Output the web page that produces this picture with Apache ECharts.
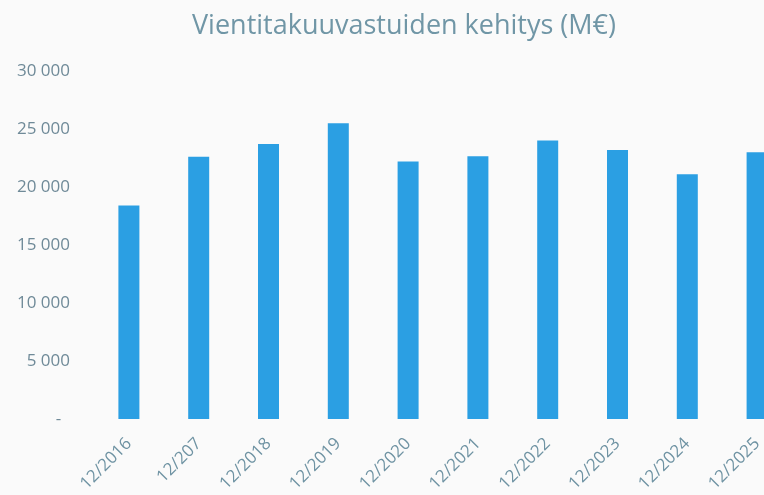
<!DOCTYPE html>
<html>
<head>
<meta charset="utf-8">
<script src="https://cdn.jsdelivr.net/npm/echarts@6/dist/echarts.min.js"></script>
<style>
  html, body { margin: 0; padding: 0; background: #fafafa; }
  #chart { width: 764px; height: 495px; }
</style>
</head>
<body>
<div id="chart"></div>
<script>
const categories = ["12/2016", "12/207", "12/2018", "12/2019", "12/2020", "12/2021", "12/2022", "12/2023", "12/2024", "12/2025"];
const values = [18400, 22600, 23700, 25500, 22200, 22650, 24000, 23200, 21100, 23000];
const titleText = "Vientitakuuvastuiden kehitys (M€)";

const chart = echarts.init(document.getElementById("chart"));
chart.setOption({
  backgroundColor: "#fafafa",
  animation: false,
  title: {
    text: titleText,
    left: 187,
    top: 8,
    textStyle: {
      color: "#7096a6",
      fontSize: 27,
      fontWeight: "normal",
      fontFamily: "Open Sans"
    }
  },
  grid: {
    left: 94,
    top: 71,
    height: 348,
    width: 698,
    outerBoundsMode: "none", // last bar runs off the right edge, like the original
    containLabel: false
  },
  xAxis: {
    type: "category",
    data: categories,
    axisLine: { show: false },
    axisTick: { show: false },
    axisLabel: {
      rotate: 45,
      margin: 22,
      interval: 0,
      color: "#6f93a3",
      fontSize: 17,
      fontFamily: "Open Sans"
    }
  },
  yAxis: {
    type: "value",
    min: 0,
    max: 30000,
    interval: 5000,
    axisLine: { show: false },
    axisTick: { show: false },
    splitLine: { show: false },
    axisLabel: {
      margin: 24,
      color: "#6f8a98",
      fontSize: 17,
      fontFamily: "Open Sans",
      formatter: function (v) {
        if (v === 0) return "-  ";
        return String(v).replace(/\B(?=(\d{3})+(?!\d))/g, " ");
      }
    }
  },
  series: [
    {
      type: "bar",
      data: values,
      barWidth: 21,
      itemStyle: { color: "#2b9fe3" }
    }
  ]
});
</script>
</body>
</html>
